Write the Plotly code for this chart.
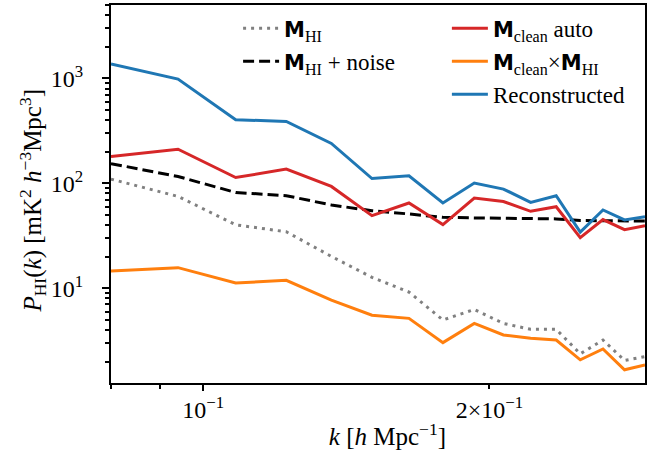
import numpy as np
import plotly.graph_objects as go

# Wavenumbers [h/Mpc]
k = [0.0800, 0.0941, 0.1082, 0.1223, 0.1364, 0.1505, 0.1646, 0.1787,
     0.1928, 0.2069, 0.2210, 0.2351, 0.2492, 0.2633, 0.2774, 0.2915]

# Power spectra [mK^2 h^-3 Mpc^3]
p_hi = [109.6, 75.0, 40.2, 34.5, 20.1, 12.7, 9.2, 4.98,
        6.28, 4.62, 4.06, 4.06, 2.37, 3.21, 2.05, 2.23]
p_hi_noise = [154, 116, 81.8, 76.2, 62.1, 54.8, 51.0, 47.4,
              46.8, 46.4, 46.1, 45.8, 44.2, 43.8, 43.6, 43.6]
p_clean_auto = [179.5, 211, 113.5, 136.4, 93.3, 49.2, 64.9, 40.4,
                72.4, 67.1, 54.1, 59.8, 30.3, 45.1, 36.2, 39.5]
p_clean_cross = [14.6, 15.7, 11.2, 11.9, 7.69, 5.54, 5.16, 3.03,
                 4.62, 3.59, 3.34, 3.21, 2.08, 2.64, 1.67, 1.86]
p_recon = [1368, 985, 403, 389, 240, 111, 118, 64.9,
           100.5, 88.1, 65.8, 76.2, 34.2, 55.7, 44.8, 48.1]

# Axis ticks
x_major = [0.1, 0.2]
x_major_text = ["10<sup>−1</sup>", "2×10<sup>−1</sup>"]
x_minor = [0.08, 0.09]
y_major = [10, 100, 1000]
y_major_text = ["10<sup>1</sup>", "10<sup>2</sup>", "10<sup>3</sup>"]
y_minor = [m * 10 ** e for e in range(0, 4) for m in range(2, 10)]
y_lim = [1.25, 5000]

SERIF = "Liberation Serif"
M = '<span style="font-family:DejaVu Sans;font-size:21px"><b>M</b></span>'

series = [
    (p_hi, f"{M}<sub>HI</sub>", "#808080", "3px,5px", "legend"),
    (p_hi_noise, f"{M}<sub>HI</sub> + noise", "black", "11px,5px", "legend"),
    (p_clean_auto, f"{M}<sub>clean</sub> auto", "#d62728", "solid", "legend2"),
    (p_clean_cross, f"{M}<sub>clean</sub>×{M}<sub>HI</sub>", "#ff7f0e", "solid", "legend2"),
    (p_recon, "Reconstructed", "#1f77b4", "solid", "legend2"),
]

fig = go.Figure()
for i, (vals, name, color, dash, leg) in enumerate(series):
    fig.add_trace(go.Scatter(
        x=k, y=vals, mode="lines", name=name, legend=leg,
        legendgroup=f"g{i}",
        line=dict(color=color, width=3, dash=dash),
    ))

# overlay axis carrying the long major tick at 0.1
fig.add_trace(go.Scatter(x=[k[0]], y=[y_lim[0]], xaxis="x2", mode="lines",
                         showlegend=False, hoverinfo="skip",
                         line=dict(width=0)))

x_range = [np.log10(k[0]), np.log10(k[-1])]
axis_common = dict(
    type="log", showgrid=False, zeroline=False,
    showline=True, linecolor="black", linewidth=2, mirror=True,
    ticks="outside", tickcolor="black", tickwidth=1.8,
    tickfont=dict(family=SERIF, size=24, color="black"),
)

legend_common = dict(
    xanchor="left", yanchor="top",
    bgcolor="rgba(255,255,255,0)", borderwidth=0,
    font=dict(family=SERIF, size=23, color="black"),
    traceorder="grouped", tracegroupgap=0, itemwidth=36,
)

fig.update_layout(
    width=664, height=468,
    margin=dict(l=111, r=19, t=3, b=85),
    paper_bgcolor="white", plot_bgcolor="white",
    font=dict(family=SERIF, size=23, color="black"),
    xaxis=dict(
        **axis_common, range=x_range,
        tickmode="array", tickvals=x_major, ticktext=x_major_text, ticklen=4,
        minor=dict(tickmode="array", tickvals=x_minor, ticks="outside",
                   ticklen=4, tickwidth=1.8, tickcolor="black", showgrid=False),
        title=dict(text="&nbsp;&nbsp;&nbsp;<i>k</i> [<i>h</i> Mpc<sup>−1</sup>]",
                   font=dict(family=SERIF, size=25), standoff=6),
    ),
    xaxis2=dict(
        type="log", overlaying="x", anchor="y", side="bottom",
        range=x_range, showgrid=False, zeroline=False, showline=False,
        tickmode="array", tickvals=[0.1], ticks="outside", ticklen=7,
        tickwidth=1.8, tickcolor="black", showticklabels=False,
    ),
    yaxis=dict(
        **axis_common, range=[np.log10(y_lim[0]), np.log10(y_lim[1])],
        tickmode="array", tickvals=y_major, ticktext=y_major_text, ticklen=7,
        ticklabelstandoff=14,
        minor=dict(tickmode="array", tickvals=y_minor, ticks="outside",
                   ticklen=4, tickwidth=1.8, tickcolor="black", showgrid=False),
        title=dict(text="<i>P</i><sub>HI</sub>(<i>k</i>) [mK<sup>2</sup> <i>h</i><sup>−3</sup>Mpc<sup>3</sup>]&nbsp;&nbsp;",
                   font=dict(family=SERIF, size=25), standoff=2),
    ),
    legend=dict(**legend_common, x=0.238, y=0.995),
    legend2=dict(**legend_common, x=0.629, y=0.995),
)

fig.write_html("out.html")
